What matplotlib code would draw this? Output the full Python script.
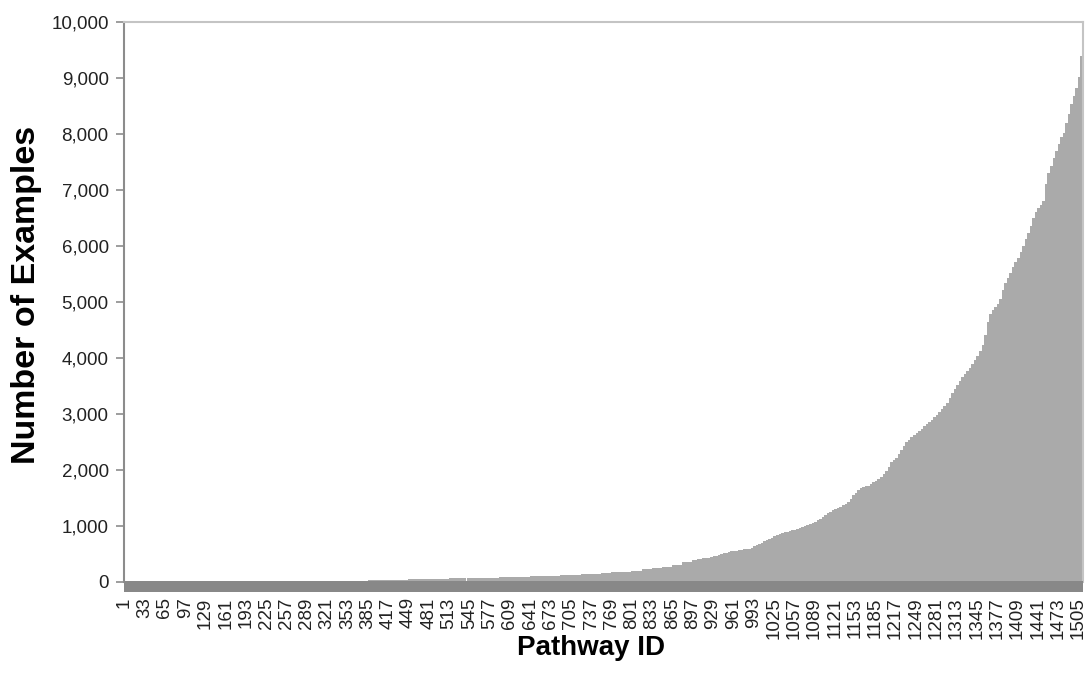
import numpy as np
import matplotlib
matplotlib.use("Agg")
import matplotlib.pyplot as plt
from matplotlib.patches import Rectangle
from matplotlib.ticker import FuncFormatter

plt.rcParams['font.family'] = ['Liberation Sans', 'DejaVu Sans']

# examples per pathway, sorted ascending
# pathways 1-896, one value per block of 16
low_block = 16
low_counts = [1, 1, 2, 2, 2, 3, 3, 4, 4, 5, 5, 6, 7, 8, 9, 10,
              11, 12, 14, 15, 17, 19, 22, 25, 28, 32, 38, 44, 48, 52, 56, 60,
              64, 68, 72, 76, 80, 84, 89, 95, 101, 107, 114, 122, 130, 139, 148, 160,
              172, 187, 204, 224, 246, 270, 305, 350]
# pathways 897-1512, one value per block of 4
high_block = 4
high_counts = [390, 398, 405, 413, 420, 428, 435, 445, 458, 471, 485, 498, 511, 524, 537,
               547, 554, 562, 569, 576, 584, 591, 598, 615, 637, 660, 682, 704, 726, 749, 771,
               793, 813, 834, 854, 870, 885, 900, 915, 926, 936, 946, 957, 975, 994, 1014, 1034,
               1055, 1077, 1100, 1124, 1163, 1202, 1234, 1256, 1279, 1301, 1323, 1346, 1368, 1391,
               1427, 1487, 1546, 1592, 1635, 1675, 1691, 1707, 1722, 1744, 1778, 1811, 1844,
               1883, 1932, 1982, 2060, 2135, 2178, 2222, 2284, 2357, 2430, 2493, 2539, 2585,
               2630, 2667, 2704, 2741, 2778, 2814, 2850, 2892, 2938, 2984, 3033, 3087, 3142,
               3201, 3291, 3378, 3451, 3525, 3598, 3655, 3710, 3765, 3829, 3897, 3965,
               4036, 4131, 4226, 4411, 4650, 4782, 4853, 4915, 4970, 5062, 5217, 5333, 5429,
               5524, 5619, 5707, 5793, 5884, 6003, 6122, 6241, 6363, 6506, 6607, 6680, 6740,
               6810, 7100, 7300, 7430, 7580, 7700, 7830, 7940, 8020, 8190, 8356, 8527,
               8680, 8830, 9010, 9400]

tick_ids = list(range(1, 1506, 32))
y_ticks = list(range(0, 10001, 1000))

counts = np.concatenate([np.repeat(low_counts, low_block),
                         np.repeat(high_counts, high_block)])
ids = np.arange(1, len(counts) + 1)

fig = plt.figure(figsize=(10.86, 6.75), dpi=100)
W, H = 1086, 675
ax = fig.add_axes([124 / W, 1 - 582 / H, (1083 - 124) / W, 560 / H])

ax.bar(ids, counts, width=1.0, color='#aaaaaa', linewidth=0)
ax.set_xlim(0.5, len(counts) + 0.5)
ax.set_ylim(0, 10000)

# dark floor strip under the bars
ax.add_patch(Rectangle((0, -10 / 560), 1, 11 / 560, transform=ax.transAxes,
                       facecolor='#888888', edgecolor='none', clip_on=False, zorder=3))

for side in ['top', 'right']:
    ax.spines[side].set_color('#c4c4c4')
    ax.spines[side].set_linewidth(1.5)
ax.spines['left'].set_color('#8c8c8c')
ax.spines['left'].set_linewidth(1.5)
ax.spines['bottom'].set_visible(False)

ax.set_yticks(y_ticks)
ax.yaxis.set_major_formatter(FuncFormatter(lambda v, p: f"{int(v):,}"))
ax.tick_params(axis='y', length=6, width=1.2, color='#8c8c8c', pad=5,
               labelsize=13.5, labelcolor='#222222')

ax.set_xticks(tick_ids)
ax.set_xticklabels([str(t) for t in tick_ids], rotation=90)
ax.tick_params(axis='x', length=0, pad=11, labelsize=13.5, labelcolor='#222222')

fig.text(591 / W, 1 - 648 / H, 'Pathway ID', ha='center', va='center',
         fontsize=20, fontweight='bold')
fig.text(27 / W, 1 - 295 / H, 'Number of Examples', ha='center', va='center',
         rotation=90, fontsize=24.5, fontweight='bold')

fig.savefig('out.png', dpi=100)
